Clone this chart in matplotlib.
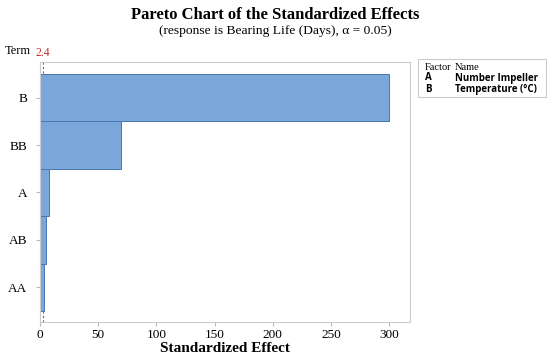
import matplotlib
matplotlib.use("Agg")
import matplotlib.pyplot as plt

terms = ["B", "BB", "A", "AB", "AA"]
effects = [300, 70, 7.5, 5.5, 3.8]
critical = 2.4
xticks = [0, 50, 100, 150, 200, 250, 300]
factors = ["A", "B"]
names = ["Number Impeller", "Temperature (°C)"]

serif = "Liberation Serif"
sans = "Open Sans"

fig = plt.figure(figsize=(5.5, 3.6), dpi=100)
ax = fig.add_axes([40/550, 1-322/360, 370/550, 260/360])

ypos = list(range(len(terms)))[::-1]
ax.barh(ypos, effects, height=1.0, color="#7ba6da", edgecolor="#4a76b0", linewidth=0.7, zorder=2)
ax.axvline(critical, color="#d04040", linestyle=(0, (2, 2)), linewidth=0.8, zorder=1)

ax.set_xlim(0, 318)
ax.set_ylim(-0.73, len(terms) - 0.25)
ax.set_yticks(ypos)
ax.set_yticklabels(terms, fontfamily=serif, fontsize=9.5)
ax.set_xticks(xticks)
ax.set_xticklabels([str(v) for v in xticks], fontfamily=serif, fontsize=9.5)
ax.tick_params(axis="both", length=3, color="#bbbbbb", pad=2)
ax.tick_params(axis="y", pad=6)
for s in ax.spines.values():
    s.set_color("#cccccc")
    s.set_linewidth(0.8)

ax.set_xlabel("Standardized Effect", fontfamily=serif, fontsize=11, fontweight="bold", labelpad=1)

fig.text(0.5, 1-15/360, "Pareto Chart of the Standardized Effects", ha="center", va="center",
         fontfamily=serif, fontsize=12, fontweight="bold")
fig.text(0.5, 1-31/360, "(response is Bearing Life (Days), α = 0.05)", ha="center", va="center",
         fontfamily=serif, fontsize=9.7)
fig.text(5/550, 1-51/360, "Term", ha="left", va="center", fontfamily=serif, fontsize=9)
ax.text(critical, 1.01, "2.4", transform=ax.get_xaxis_transform(), ha="center", va="bottom",
        fontfamily=serif, fontsize=8.5, color="#c03030")

# legend box
lx0, ly0, lx1, ly1 = 418, 59, 546, 97
box = plt.Rectangle((lx0/550, 1-ly1/360), (lx1-lx0)/550, (ly1-ly0)/360, transform=fig.transFigure,
                    facecolor="white", edgecolor="#cccccc", linewidth=0.8)
fig.patches.append(box)
fig.text(425/550, 1-67/360, "Factor", fontfamily=serif, fontsize=7.5, va="center")
fig.text(455/550, 1-67/360, "Name", fontfamily=serif, fontsize=7.5, va="center")
for i, (f, n) in enumerate(zip(factors, names)):
    y = 1 - (78 + i*11)/360
    fig.text(425/550, y, f, fontfamily=sans, fontsize=7, fontweight="bold", va="center")
    fig.text(455/550, y, n, fontfamily=sans, fontsize=7, fontweight="bold", va="center")

fig.savefig("out.png", dpi=100)
